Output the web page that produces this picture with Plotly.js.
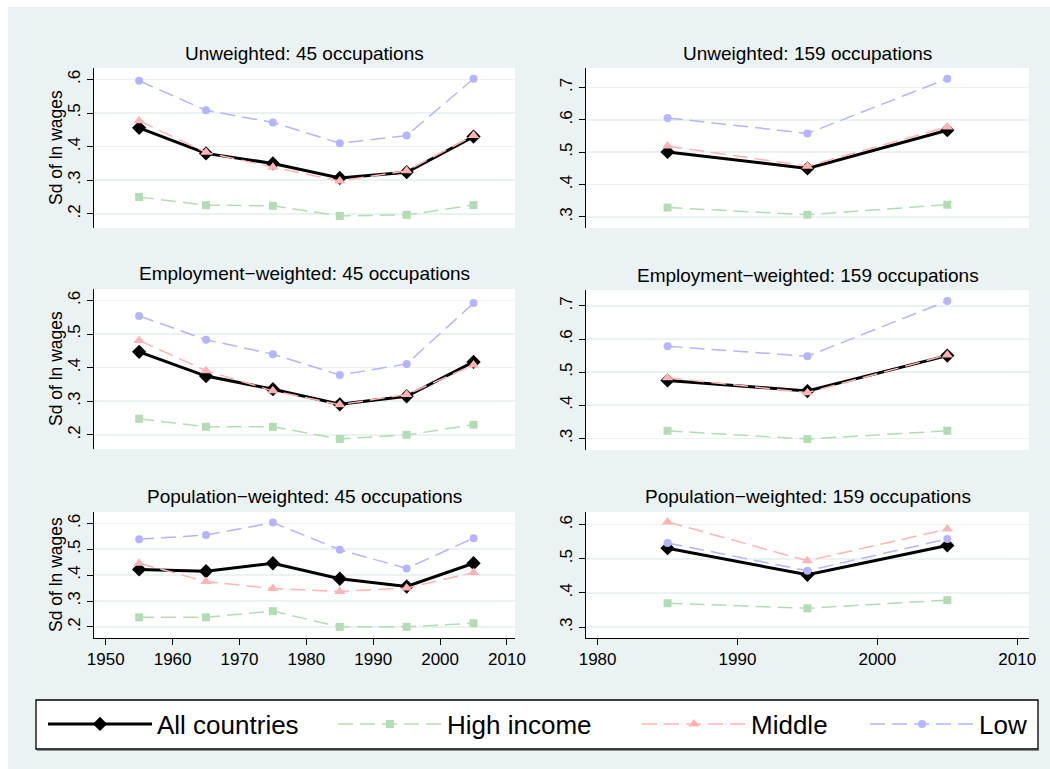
<!DOCTYPE html>
<html>
<head>
<meta charset="utf-8">
<script src="https://cdn.plot.ly/plotly-3.0.1.min.js"></script>
<style>html,body{margin:0;padding:0;background:#fff;}#chart{width:1050px;height:769px;}</style>
</head>
<body>
<div id="chart"></div>
<script>
// ---- data ----
var years45 = [1955, 1965, 1975, 1985, 1995, 2005];
var years159 = [1985, 1995, 2005];

var seriesNames = ["All countries", "High income", "Middle", "Low"];
var panelTitles = [
  "Unweighted: 45 occupations", "Unweighted: 159 occupations",
  "Employment\u2212weighted: 45 occupations", "Employment\u2212weighted: 159 occupations",
  "Population\u2212weighted: 45 occupations", "Population\u2212weighted: 159 occupations"
];
var yTitle = "Sd of ln wages";

var unw45_all  = [0.456, 0.380, 0.350, 0.307, 0.324, 0.430];
var unw45_high = [0.250, 0.226, 0.224, 0.194, 0.197, 0.226];
var unw45_mid  = [0.477, 0.383, 0.339, 0.298, 0.328, 0.433];
var unw45_low  = [0.596, 0.508, 0.472, 0.410, 0.433, 0.602];

var unw159_all  = [0.501, 0.450, 0.568];
var unw159_high = [0.329, 0.307, 0.338];
var unw159_mid  = [0.519, 0.457, 0.578];
var unw159_low  = [0.606, 0.558, 0.727];

var emp45_all  = [0.447, 0.375, 0.336, 0.291, 0.315, 0.417];
var emp45_high = [0.248, 0.224, 0.224, 0.188, 0.200, 0.230];
var emp45_mid  = [0.481, 0.391, 0.331, 0.290, 0.320, 0.408];
var emp45_low  = [0.554, 0.483, 0.440, 0.378, 0.411, 0.592];

var emp159_all  = [0.475, 0.443, 0.550];
var emp159_high = [0.323, 0.298, 0.323];
var emp159_mid  = [0.483, 0.438, 0.552];
var emp159_low  = [0.578, 0.548, 0.715];

var pop45_all  = [0.422, 0.415, 0.446, 0.386, 0.356, 0.446];
var pop45_high = [0.237, 0.237, 0.261, 0.200, 0.200, 0.214];
var pop45_mid  = [0.446, 0.375, 0.348, 0.337, 0.350, 0.410];
var pop45_low  = [0.539, 0.555, 0.603, 0.498, 0.426, 0.543];

var pop159_all  = [0.531, 0.453, 0.539];
var pop159_high = [0.370, 0.355, 0.379];
var pop159_mid  = [0.608, 0.494, 0.587];
var pop159_low  = [0.546, 0.465, 0.558];

var xTicks45 = [1950, 1960, 1970, 1980, 1990, 2000, 2010];
var xTicks159 = [1980, 1990, 2000, 2010];
var yTicksA = [0.2, 0.3, 0.4, 0.5, 0.6];
var yTickTextA = [".2", ".3", ".4", ".5", ".6"];
var yTicksB = [0.3, 0.4, 0.5, 0.6, 0.7];
var yTickTextB = [".3", ".4", ".5", ".6", ".7"];
var yTicksC = [0.3, 0.4, 0.5, 0.6];
var yTickTextC = [".3", ".4", ".5", ".6"];

// ---- styling ----
var W = 1050, H = 769;
var FONT = "Liberation Sans, Arial, Helvetica, sans-serif";
var BG = "#EAF2F3";
var styles = [
  {color: "#000000", width: 3, dash: "solid", symbol: "diamond", size: 11},
  {color: "#B4DCB4", width: 1.5, dash: "15px,7px", symbol: "square", size: 8},
  {color: "#FFB4B4", width: 1.5, dash: "15px,7px", symbol: "triangle-up", size: 10},
  {color: "#B4B4FF", width: 1.5, dash: "15px,7px", symbol: "circle", size: 8}
];

function px(x) { return x / W; }
function py(y) { return 1 - y / H; }

// panel geometry (pixels)
var panels = [
  {x0: 94, x1: 515, y0: 68, y1: 228, years: years45, data: [unw45_all, unw45_high, unw45_mid, unw45_low], yr: [0.158, 0.634], yt: yTicksA, ytt: yTickTextA, xr: [1948.25, 2011.2], xt: xTicks45, bottom: false, left: true, tY: 53},
  {x0: 586, x1: 1029, y0: 68, y1: 228, years: years159, data: [unw159_all, unw159_high, unw159_mid, unw159_low], yr: [0.266, 0.760], yt: yTicksB, ytt: yTickTextB, xr: [1979.17, 2010.84], xt: xTicks159, bottom: false, left: false, tY: 53},
  {x0: 94, x1: 515, y0: 289, y1: 449, years: years45, data: [emp45_all, emp45_high, emp45_mid, emp45_low], yr: [0.158, 0.634], yt: yTicksA, ytt: yTickTextA, xr: [1948.25, 2011.2], xt: xTicks45, bottom: false, left: true, tY: 274},
  {x0: 586, x1: 1029, y0: 290, y1: 450, years: years159, data: [emp159_all, emp159_high, emp159_mid, emp159_low], yr: [0.265, 0.748], yt: yTicksB, ytt: yTickTextB, xr: [1979.17, 2010.84], xt: xTicks159, bottom: false, left: false, tY: 275},
  {x0: 94, x1: 515, y0: 512, y1: 638, years: years45, data: [pop45_all, pop45_high, pop45_mid, pop45_low], yr: [0.157, 0.644], yt: yTicksA, ytt: yTickTextA, xr: [1948.25, 2011.2], xt: xTicks45, bottom: true, left: true, tY: 496},
  {x0: 586, x1: 1029, y0: 512, y1: 638, years: years159, data: [pop159_all, pop159_high, pop159_mid, pop159_low], yr: [0.268, 0.637], yt: yTicksC, ytt: yTickTextC, xr: [1979.17, 2010.84], xt: xTicks159, bottom: true, left: false, tY: 496}
];

var legendNames = ["legend", "legend2", "legend3", "legend4"];
var legendX = [43, 333, 637, 865];

var traces = [];
var layout = {
  width: W, height: H,
  margin: {l: 0, r: 0, t: 0, b: 0},
  paper_bgcolor: BG,
  plot_bgcolor: "#FFFFFF",
  font: {family: FONT, color: "#000000", size: 17},
  showlegend: true,
  shapes: [
    {type: "rect", xref: "paper", yref: "paper", x0: 0, x1: 1, y0: py(7), y1: 1.01, fillcolor: "#FFFFFF", line: {width: 0}, layer: "below"},
    {type: "rect", xref: "paper", yref: "paper", x0: -0.01, x1: px(8), y0: -0.01, y1: 1.01, fillcolor: "#FFFFFF", line: {width: 0}, layer: "below"},
    {type: "rect", xref: "paper", yref: "paper", x0: px(36), x1: px(1038), y0: py(749), y1: py(700), fillcolor: "#FFFFFF", line: {color: "#000000", width: 1.3}, layer: "below"},
    {type: "line", xref: "paper", yref: "paper", x0: px(37), x1: px(1039), y0: py(750), y1: py(750), line: {color: "#333333", width: 1}, layer: "below"}
  ],
  annotations: []
};

panels.forEach(function (p, i) {
  var n = i + 1;
  var xa = "xaxis" + (n === 1 ? "" : n), ya = "yaxis" + (n === 1 ? "" : n);
  var xid = "x" + (n === 1 ? "" : n), yid = "y" + (n === 1 ? "" : n);
  p.data.forEach(function (vals, k) {
    var s = styles[k];
    traces.push({
      type: "scatter", mode: "lines+markers",
      x: p.years, y: vals, xaxis: xid, yaxis: yid,
      name: seriesNames[k],
      legend: legendNames[k],
      showlegend: i === 0,
      line: {color: s.color, width: s.width, dash: s.dash},
      marker: {color: s.color, symbol: s.symbol, size: s.size, line: {width: 0}},
      hoverinfo: "x+y+name"
    });
  });
  layout[xa] = {
    domain: [px(p.x0), px(p.x1)], range: p.xr, anchor: yid,
    showgrid: false, zeroline: false,
    showline: p.bottom, linecolor: "#000000", linewidth: 1,
    ticks: p.bottom ? "outside" : "", ticklen: 6, tickcolor: "#000000", tickwidth: 1,
    showticklabels: p.bottom, tickvals: p.xt, tickfont: {size: 17}
  };
  layout[ya] = {
    domain: [py(p.y1), py(p.y0)], range: p.yr, anchor: xid,
    showgrid: true, gridcolor: BG, gridwidth: 1.6, zeroline: false,
    showline: true, linecolor: "#000000", linewidth: 1,
    ticks: "outside", ticklen: 6, tickcolor: "#000000", tickwidth: 1,
    tickvals: p.yt, ticktext: p.ytt, tickangle: -90, tickfont: {size: 17}
  };
  layout.annotations.push({
    text: panelTitles[i], xref: "paper", yref: "paper",
    x: px((p.x0 + p.x1) / 2), y: py(p.tY), xanchor: "center", yanchor: "middle",
    showarrow: false, font: {size: 19}
  });
  if (p.left) {
    layout.annotations.push({
      text: yTitle, xref: "paper", yref: "paper", textangle: -90,
      x: px(56), y: py((p.y0 + p.y1) / 2), xanchor: "center", yanchor: "middle",
      showarrow: false, font: {size: 17.5}
    });
  }
});

legendNames.forEach(function (ln, k) {
  layout[ln] = {
    x: px(legendX[k]), y: py(724), xanchor: "left", yanchor: "middle",
    orientation: "h", bgcolor: "rgba(0,0,0,0)", borderwidth: 0,
    font: {size: 26, family: FONT, color: "#000000"},
    itemwidth: 104, itemclick: false, itemdoubleclick: false
  };
});

Plotly.newPlot("chart", traces, layout, {displayModeBar: false, staticPlot: true});
</script>
</body>
</html>
